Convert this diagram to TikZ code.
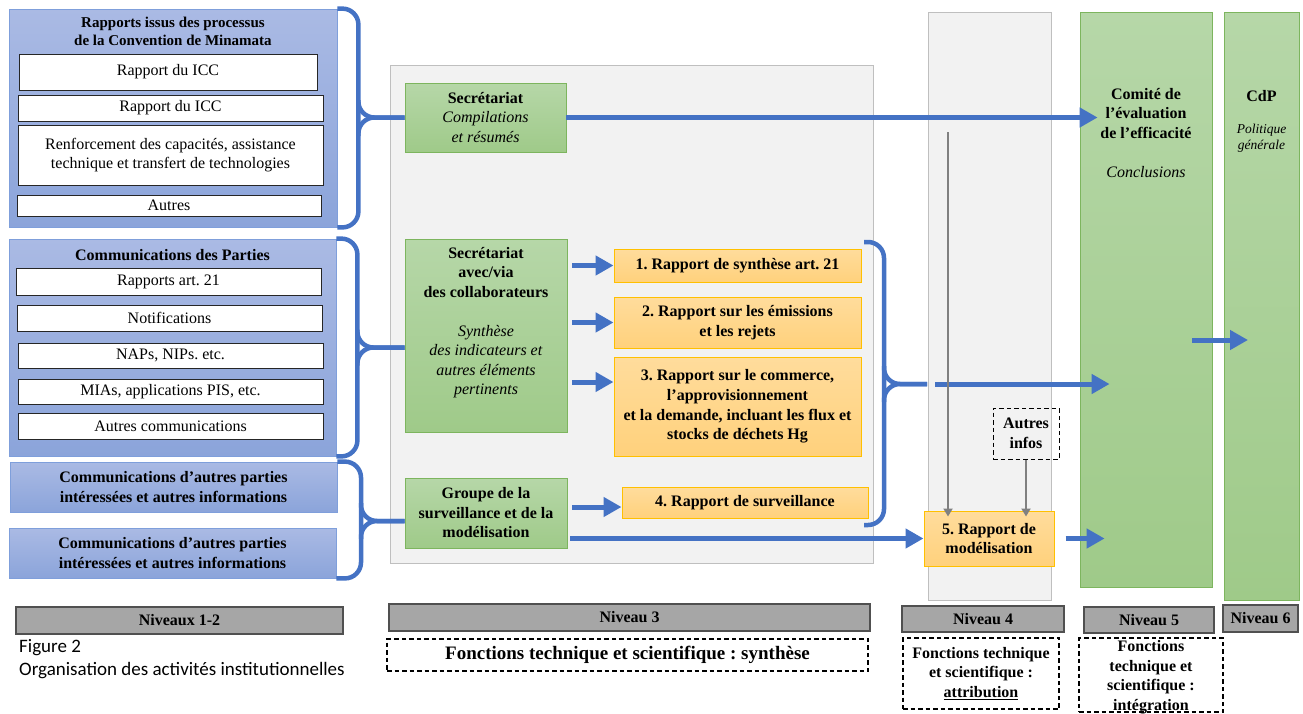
\documentclass[tikz,border=0pt]{standalone}
\usepackage{fontspec}
\setmainfont{Liberation Serif}
\newfontfamily\capfont{Carlito}
\usetikzlibrary{arrows.meta}
\frenchspacing

\definecolor{wblue}{HTML}{4472C4}
\definecolor{bluebdr}{HTML}{7F9FDB}
\definecolor{bluetop}{HTML}{AABAE4}
\definecolor{bluebot}{HTML}{8BA4DA}
\definecolor{greenbdr}{HTML}{7DB55E}
\definecolor{greentop}{HTML}{B6D7A8}
\definecolor{greenbot}{HTML}{9FCA89}
\definecolor{orangebdr}{HTML}{FFC000}
\definecolor{orangetop}{HTML}{FFDC9C}
\definecolor{orangebot}{HTML}{FFD17C}
\definecolor{panelbdr}{HTML}{BFBFBF}
\definecolor{panelfill}{HTML}{F2F2F2}
\definecolor{levelbdr}{HTML}{505050}
\definecolor{levelfill}{HTML}{A6A6A6}
\definecolor{gline}{HTML}{808080}

\begin{document}
\begin{tikzpicture}[x=1pt,y=-1pt,font=\fontsize{16}{19.5}\selectfont,
  txt/.style={align=center,inner sep=0pt},
  box/.style={rectangle,inner sep=0pt,align=center},
  bluebox/.style={box,draw=bluebdr,line width=0.8pt,top color=bluetop,bottom color=bluebot},
  whitebox/.style={box,draw=black!85,line width=0.8pt,fill=white},
  greenbox/.style={box,draw=greenbdr,line width=0.8pt,top color=greentop,bottom color=greenbot},
  orangebox/.style={box,draw=orangebdr,line width=1pt,top color=orangetop,bottom color=orangebot,font=\fontsize{16}{19.8}\selectfont\bfseries},
  panel/.style={box,draw=panelbdr,fill=panelfill,line width=1pt},
  levelbox/.style={box,draw=levelbdr,fill=levelfill,line width=1.2pt,font=\fontsize{16}{19}\selectfont\bfseries},
  dashbox/.style={box,draw=black,dash pattern=on 4.5pt off 3pt,line width=1.2pt,font=\fontsize{16}{19.5}\selectfont\bfseries},
  arr/.style={draw=wblue,line width=5pt,-{Triangle[length=18pt,width=19pt]}},
  garr/.style={draw=gline,line width=2.5pt,-{Triangle[length=8pt,width=9pt]}},
  brace/.style={draw=wblue,line width=4.5pt,rounded corners=16pt}]
  \useasboundingbox (0,0) rectangle (1303,713);

  % niveaux 1-2
  \node[bluebox,minimum width=328pt,minimum height=218pt] (rapmin) at (173,118) {};
  \node[txt,anchor=north,font=\fontsize{15}{17.5}\selectfont\bfseries] (rapminT) at (173,17) {Rapports issus des processus\\de la Convention de Minamata};
  \node[whitebox,minimum width=298pt,minimum height=36pt] (icc1) at (168,72) {Rapport du ICC};
  \node[whitebox,minimum width=305pt,minimum height=26pt] (icc2) at (170.5,108) {Rapport du ICC};
  \node[whitebox,minimum width=305pt,minimum height=60pt] (renf) at (170.5,155) {Renforcement des capacités, assistance\\technique et transfert de technologies};
  \node[whitebox,minimum width=304pt,minimum height=21pt] (autres) at (169,205.5) {Autres};

  \node[bluebox,minimum width=327pt,minimum height=217pt] (commpart) at (172.5,347.5) {};
  \node[txt,font=\fontsize{16}{19.5}\selectfont\bfseries] (commpartT) at (172.5,255) {Communications des Parties};
  \node[whitebox,minimum width=305pt,minimum height=27pt] (art21) at (168.5,281.5) {Rapports art. 21};
  \node[whitebox,minimum width=305pt,minimum height=26pt] (notif) at (169.5,318) {Notifications};
  \node[whitebox,minimum width=305pt,minimum height=25pt] (naps) at (170.5,355.5) {NAPs, NIPs. etc.};
  \node[whitebox,minimum width=305pt,minimum height=25pt] (mias) at (170.5,391.5) {MIAs, applications PIS, etc.};
  \node[whitebox,minimum width=305pt,minimum height=26pt] (autcom) at (170.5,426) {Autres communications};

  \node[bluebox,minimum width=327pt,minimum height=50pt,font=\fontsize{16}{19.5}\selectfont\bfseries] (autre1) at (173.5,487) {Communications d’autres parties\\intéressées et autres informations};
  \node[bluebox,minimum width=327pt,minimum height=50pt,font=\fontsize{16}{19.5}\selectfont\bfseries] (autre2) at (172.5,553) {Communications d’autres parties\\intéressées et autres informations};

  \node[levelbox,minimum width=327pt,minimum height=27pt] (niv12) at (179.5,620.5) {Niveaux 1-2};
  \node[txt,anchor=north west,align=left,font=\capfont\fontsize{19}{23}\selectfont] (fig) at (19,639) {Figure 2\\Organisation des activités institutionnelles};

  % niveau 3
  \node[panel,minimum width=483pt,minimum height=498pt] (niv3p) at (631.5,314) {};
  \node[greenbox,minimum width=161pt,minimum height=69pt] (secr) at (485.5,117.5) {\textbf{Secrétariat}\\\textit{Compilations}\\\textit{et résumés}};
  \node[greenbox,minimum width=162pt,minimum height=193pt] (secrcol) at (486,335.5) {};
  \node[txt,anchor=north] (secrcolT) at (486,247) {\textbf{Secrétariat}\\\textbf{avec/via}\\\textbf{des collaborateurs}\\[19.5pt]\textit{Synthèse}\\\textit{des indicateurs et}\\\textit{autres éléments}\\\textit{pertinents}};
  \node[greenbox,minimum width=162pt,minimum height=70pt,font=\fontsize{16}{19.5}\selectfont\bfseries] (grpsurv) at (486,513) {Groupe de la\\surveillance et de la\\modélisation};

  \node[orangebox,minimum width=247pt,minimum height=33pt] (r1) at (737.5,265.5) {1. Rapport de synthèse art. 21};
  \node[orangebox,minimum width=247pt,minimum height=51pt] (r2) at (737.5,322.5) {2. Rapport sur les émissions\\et les rejets};
  \node[orangebox,minimum width=247pt,minimum height=99pt] (r3) at (737.5,406.5) {3. Rapport sur le commerce,\\l’approvisionnement\\et la demande, incluant les flux et\\stocks de déchets Hg};
  \node[orangebox,minimum width=246pt,minimum height=31pt] (r4) at (745,502.5) {4. Rapport de surveillance};

  \node[levelbox,minimum width=481pt,minimum height=27pt] (niv3) at (629.5,617.5) {Niveau 3};
  \node[dashbox,minimum width=481pt,minimum height=32pt,font=\fontsize{19}{22}\selectfont\bfseries] (synth) at (627.5,655) {Fonctions technique et scientifique : synthèse};

  % niveaux 4, 5, 6
  \node[panel,minimum width=123pt,minimum height=588pt] (niv4p) at (989.5,306) {};
  \node[greenbox,minimum width=132pt,minimum height=575pt] (cee) at (1146,299.5) {};
  \node[txt,anchor=north] (ceeT) at (1146,88) {\textbf{Comité de}\\\textbf{l’évaluation}\\\textbf{de l’efficacité}\\[19.5pt]\textit{Conclusions}};
  \node[greenbox,minimum width=75pt,minimum height=588pt] (cdp) at (1261.5,306) {};
  \node[txt,font=\fontsize{16}{19.5}\selectfont\bfseries] (cdpT) at (1261.5,96) {CdP};
  \node[txt,font=\fontsize{13.5}{16}\selectfont\itshape] (cdpP) at (1261.5,138) {Politique\\générale};

  \node[dashbox,line width=1pt,minimum width=66pt,minimum height=51pt] (infos) at (1026,433.5) {Autres\\infos};
  \node[orangebox,minimum width=130pt,minimum height=55pt] (r5) at (989,538.5) {5. Rapport de\\modélisation};

  \node[levelbox,minimum width=162pt,minimum height=26pt] (niv4) at (983,619) {Niveau 4};
  \node[dashbox,minimum width=156pt,minimum height=71pt] (attr) at (981,673.5) {Fonctions technique\\et scientifique :\\\underline{attribution}};
  \node[levelbox,minimum width=130pt,minimum height=26pt] (niv5) at (1149,620) {Niveau 5};
  \node[dashbox,minimum width=144pt,minimum height=74pt] (integ) at (1151,675) {};
  \node[txt,anchor=north,font=\fontsize{16}{19.7}\selectfont\bfseries] (integT) at (1151,640) {Fonctions\\technique et\\scientifique :\\intégration};
  \node[levelbox,minimum width=75pt,minimum height=27pt] (niv6) at (1260.5,618.5) {Niveau 6};

  % accolades
  \draw[brace] (rapmin.north east) -| ([xshift=21pt]rapmin.east) |- (rapmin.south east);
  \draw[brace] ([xshift=21pt,yshift=18pt]rapmin.east) |- (secr.west);
  \draw[brace] ([xshift=21pt,yshift=-18pt]rapmin.east) |- (secr.west);

  \draw[brace] (commpart.north east) -| ([xshift=21pt]commpart.east) |- (commpart.south east);
  \draw[brace] ([xshift=21pt,yshift=18pt]commpart.east) |- (commpart.east -| secrcol.west);
  \draw[brace] ([xshift=21pt,yshift=-18pt]commpart.east) |- (commpart.east -| secrcol.west);

  \coordinate (cmid) at (361,521);
  \draw[brace] (autre1.north east) -| (cmid) |- (autre2.south east);
  \draw[brace] ([yshift=18pt]cmid) |- (cmid -| grpsurv.west);
  \draw[brace] ([yshift=-18pt]cmid) |- (cmid -| grpsurv.west);

  \coordinate (rbt) at (864,242);
  \coordinate (rbb) at (864,525);
  \coordinate (rbm) at (884,384);
  \coordinate (rbx) at (927,384);
  \draw[brace] (rbt) -| (rbm) |- (rbb);
  \draw[brace] ([yshift=18pt]rbm) |- (rbx);
  \draw[brace] ([yshift=-18pt]rbm) |- (rbx);

  % fleches
  \coordinate (r3in) at ([yshift=24.5pt]r3.west);
  \coordinate (r4in) at ([yshift=-4.5pt]r4.west);
  \draw[arr] (secr.east) -- ([xshift=18pt]secr.east -| cee.west);
  \draw[arr,shorten <=5pt] (secrcol.east |- r1.west) -- (r1.west);
  \draw[arr,shorten <=5pt] (secrcol.east |- r2.west) -- (r2.west);
  \draw[arr,shorten <=5pt] (secrcol.east |- r3in) -- (r3in);
  \draw[arr,shorten <=5pt] (grpsurv.east |- r4in) -- (r4in);
  \draw[arr,shorten <=3pt] (grpsurv.east |- r5.west) -- (r5.west);
  \draw[arr] ([xshift=8pt]rbx) -- ([xshift=30pt]rbx -| cee.west);
  \draw[arr,shorten <=11pt] (r5.east) -- ([xshift=25pt]r5.east -| cee.west);
  \coordinate (ceeout) at (1192,340);
  \coordinate (cdpin) at (1248,340);
  \draw[arr] (ceeout) -- (cdpin);

  \coordinate (gtop) at (948,132);
  \draw[garr] (gtop) -- ([yshift=-6pt]gtop |- r5.north);
  \draw[garr] (infos.south) -- ([yshift=-6pt]infos.south |- r5.north);
\end{tikzpicture}
\end{document}
